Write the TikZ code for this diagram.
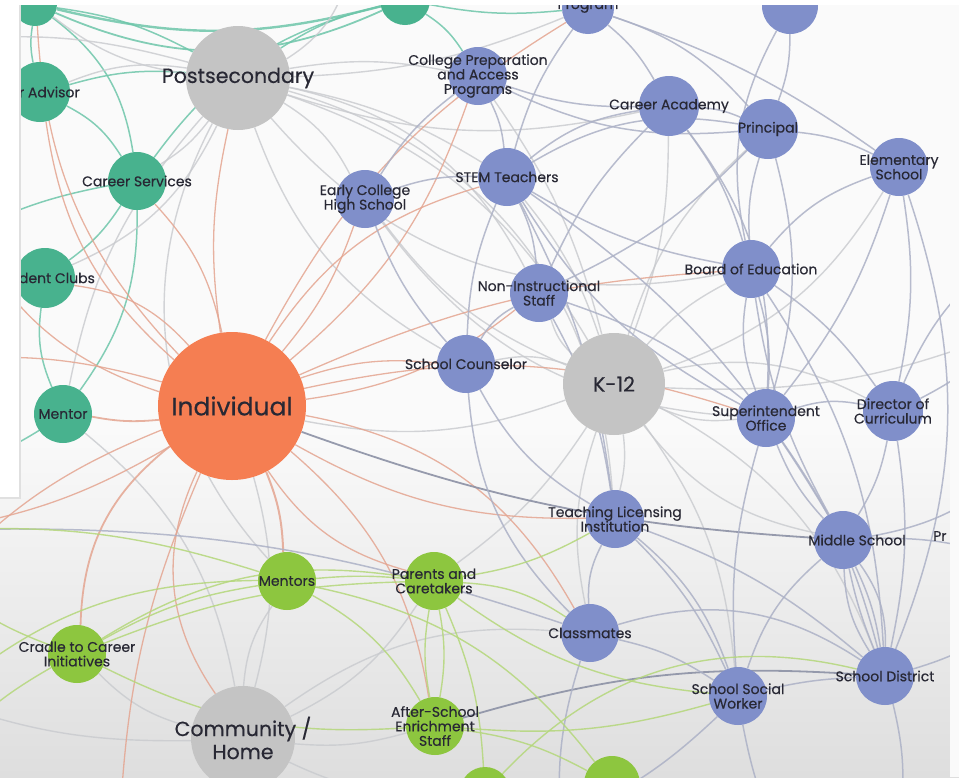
\documentclass[tikz,border=0pt]{standalone}
\usepackage{fontspec}
\setmainfont{Poppins}[FakeBold=0.35]
\pgfdeclarelayer{bg}
\pgfdeclarelayer{edges}
\pgfdeclarelayer{top}
\pgfsetlayers{bg,edges,main,top}
\definecolor{nteal}{RGB}{72,178,142}
\definecolor{nblue}{RGB}{128,143,202}
\definecolor{ngreen}{RGB}{141,198,63}
\definecolor{norange}{RGB}{245,126,82}
\definecolor{nhub}{RGB}{196,196,196}
\definecolor{txt}{RGB}{40,40,52}
\definecolor{cteal}{RGB}{110,198,170}
\definecolor{cblue}{RGB}{172,177,198}
\definecolor{cgreen}{RGB}{180,215,122}
\definecolor{csalmon}{RGB}{228,165,145}
\definecolor{chub}{RGB}{200,202,206}
\definecolor{cdark}{RGB}{140,145,165}
\definecolor{bglow}{RGB}{222,222,222}
\tikzset{
  tn/.style={circle,fill=nteal,minimum size=58pt,inner sep=0pt},
  bn/.style={circle,fill=nblue,minimum size=58pt,inner sep=0pt},
  gn/.style={circle,fill=ngreen,minimum size=58pt,inner sep=0pt},
  hn/.style={circle,fill=nhub,minimum size=104pt,inner sep=0pt},
  lbl/.style={font=\fontsize{14}{14.5}\selectfont,text=txt,align=center,inner sep=0pt},
  big/.style={font=\fontsize{20.5}{23}\selectfont,text=txt,align=center,inner sep=0pt},
  et/.style={draw=cteal,line width=1.5pt,opacity=0.85},
  eb/.style={draw=cblue,line width=1.5pt,opacity=0.85},
  eg/.style={draw=cgreen,line width=1.4pt,opacity=0.85},
  es/.style={draw=csalmon,line width=1.3pt,opacity=0.85},
  eh/.style={draw=chub,line width=1.4pt,opacity=0.8},
  ed/.style={draw=cdark,line width=1.8pt,opacity=0.9},
}
\begin{document}
\begin{tikzpicture}[x=1pt,y=-1pt]
\useasboundingbox (0,0) rectangle (959,777);
% ---- nodes ----
\node[tn,minimum size=44pt] (org) at (35,4) {};
\node[tn,minimum size=50pt] (tt) at (405,0) {};
\node[tn,minimum size=60pt,label={[lbl,anchor=west,xshift=9pt]west:r Advisor}] (adv) at (40,92) {};
\node[tn,label={[lbl]center:Career Services}] (car) at (137,181) {};
\node[tn,minimum size=60pt,label={[lbl,anchor=west,xshift=4pt]west:dent Clubs}] (clb) at (45,278) {};
\node[tn,label={[lbl]center:Mentor}] (men) at (63,414) {};
\node[hn,label={[big]center:Postsecondary}] (pse) at (238,78) {};
\node[circle,fill=norange,minimum size=148pt,inner sep=0pt,label={[big,font=\fontsize{25}{28}\selectfont]center:Individual}] (ind) at (232,406) {};
\node[hn,minimum size=102pt,label={[big]center:K-12}] (k12) at (614,384) {};
\node[hn,label={[big]center:Community /\\Home}] (com) at (243,738) {};
\node[bn,minimum size=52pt,label={[lbl,yshift=2pt]center:Program}] (prg) at (588,8) {};
\node[bn,minimum size=56pt] (ott) at (790,6) {};
\node[bn,label={[lbl]center:College Preparation\\and Access\\Programs}] (cpa) at (478,76) {};
\node[bn,minimum size=60pt,label={[lbl]center:Career Academy}] (aca) at (669,106) {};
\node[bn,minimum size=60pt,label={[lbl]center:Principal}] (pri) at (768,129) {};
\node[bn,label={[lbl]center:Elementary\\School}] (ele) at (899,167) {};
\node[bn,label={[lbl]center:STEM Teachers}] (stm) at (507,177) {};
\node[bn,label={[lbl]center:Early College\\High School}] (ech) at (365,199) {};
\node[bn,label={[lbl]center:Board of Education}] (boe) at (751,269) {};
\node[bn,label={[lbl]center:Non-Instructional\\Staff}] (non) at (539,293) {};
\node[bn,label={[lbl]center:School Counselor}] (cou) at (466,364) {};
\node[bn,label={[lbl]center:Superintendent\\Office}] (sup) at (766,418) {};
\node[bn,minimum size=60pt,label={[lbl]center:Director of\\Curriculum}] (dir) at (893,411) {};
\node[bn,label={[lbl]center:Teaching Licensing\\Institution}] (tli) at (615,519) {};
\node[bn,label={[lbl,xshift=14pt]center:Middle School}] (mid) at (843,540) {};
\node[bn,label={[lbl]center:Classmates}] (cls) at (590,633) {};
\node[bn,label={[lbl]center:School Social\\Worker}] (ssw) at (738,696) {};
\node[bn,label={[lbl]center:School District}] (dis) at (885,676) {};
\node[gn,label={[lbl]center:Mentors}] (mnt) at (287,581) {};
\node[gn,label={[lbl]center:Parents and\\Caretakers}] (par) at (434,581) {};
\node[gn,label={[lbl]center:Cradle to Career\\Initiatives}] (cra) at (77,654) {};
\node[gn,label={[lbl]center:After-School\\Enrichment\\Staff}] (aft) at (435,726) {};
\node[gn,minimum size=56pt] (g1) at (612,784) {};
\node[gn,minimum size=50pt] (g2) at (485,792) {};
\node[lbl,anchor=west] (prv) at (933,536) {Pr};
% off-screen ends
\coordinate (o1) at (-60,250);
\coordinate (o2) at (-60,470);
\coordinate (o3) at (-50,160);
\coordinate (o4) at (-50,40);
\coordinate (o5) at (-60,700);
\coordinate (o6) at (-60,360);
\coordinate (o7) at (-60,530);
\coordinate (o8) at (120,820);
\coordinate (o9) at (1010,330);
\coordinate (o10) at (1010,560);
\coordinate (o11) at (1010,620);
\coordinate (o12) at (770,820);
\coordinate (o13) at (560,820);
\coordinate (o14) at (-60,580);
\coordinate (o15) at (-60,760);
\coordinate (o16) at (1010,250);
\coordinate (o17) at (1010,470);
\coordinate (o18) at (350,-40);
\coordinate (o19) at (700,-40);
\coordinate (o20) at (900,820);
% ---- background ----
\begin{pgfonlayer}{bg}
\fill[white!98!black] (0,0) rectangle (959,777);
\shade[top color=white!98!black,bottom color=bglow] (0,430) rectangle (959,777);
\end{pgfonlayer}
% ---- edges ----
\begin{pgfonlayer}{edges}
% teal
\draw[et,line width=2.4pt] (org) to[bend right=14] (tt);
\draw[et,line width=1.8pt] (org) to[bend right=24] (tt);
\draw[et] (org) to[bend left=22] (car);
\draw[et] (org) to[bend right=10] (adv);
\draw[et] (adv) to[bend left=15] (car);
\draw[et] (adv) to[bend left=10] (pse);
\draw[et] (car) to[bend left=10] (clb);
\draw[et] (car) to[bend left=18] (men);
\draw[et] (clb) to[bend right=15] (men);
\draw[et] (car) to[bend left=20] (tt);
\draw[et] (org) to[bend left=10] (pse);
\draw[et] (car) to[bend right=10] (o1);
\draw[et] (men) to[bend left=10] (o2);
\draw[et] (adv) to[bend left=10] (o3);
\draw[et] (tt) to[bend left=12] (cpa);
\draw[et] (tt) to[bend right=10] (pse);
\draw[et] (tt) to[bend right=8] (prg);
% hub gray
\draw[eh] (pse) to[bend right=15] (adv);
\draw[eh] (pse) to[bend left=10] (car);
\draw[eh] (pse) to[bend left=20] (clb);
\draw[eh] (pse) to[bend right=15] (men);
\draw[eh] (pse) to[bend left=15] (ech);
\draw[eh] (pse) to[bend left=10] (cpa);
\draw[eh] (pse) to[bend right=10] (prg);
\draw[eh] (pse) to[bend right=15] (aca);
\draw[eh] (pse) to[bend left=10] (stm);
\draw[eh] (pse) to[bend left=20] (k12);
\draw[eh] (pse) to[bend right=20] (cou);
\draw[eh] (pse) to[bend right=10] (o4);
\draw[eh] (pse) to[bend left=25] (non);
\draw[eh] (pse) to[bend left=15] (org);
\draw[eh] (pse) to[bend right=25] (o18);
\draw[eh] (pse) to[bend right=30] (boe);
\draw[eh] (pse) to[bend left=35] (tli);
\draw[eh] (pse) to[bend right=35] (mnt);
\draw[eh] (ech) to[bend right=25] (sup);
\draw[eh] (k12) to[bend left=15] (non);
\draw[eh] (k12) to[bend right=15] (cou);
\draw[eh] (k12) to[bend right=10] (stm);
\draw[eh] (k12) to[bend left=10] (boe);
\draw[eh] (k12) to[bend right=15] (sup);
\draw[eh] (k12) to[bend left=20] (dir);
\draw[eh] (k12) to[bend left=10] (tli);
\draw[eh] (k12) to[bend right=20] (mid);
\draw[eh] (k12) to[bend right=15] (cls);
\draw[eh] (k12) to[bend left=15] (ssw);
\draw[eh] (k12) to[bend right=10] (aca);
\draw[eh] (k12) to[bend left=15] (pri);
\draw[eh] (k12) to[bend right=20] (ele);
\draw[eh] (k12) to[bend left=20] (dis);
\draw[eh] (k12) to[bend left=15] (ech);
\draw[eh] (k12) to[bend right=10] (cpa);
\draw[eh] (k12) to[bend left=15] (ind);
\draw[eh] (k12) to[bend left=10] (par);
\draw[eh] (k12) to[bend right=12] (o9);
\draw[eh] (com) to[bend left=15] (mnt);
\draw[eh] (com) to[bend right=15] (par);
\draw[eh] (com) to[bend left=15] (cra);
\draw[eh] (com) to[bend right=10] (aft);
\draw[eh] (com) to[bend right=15] (g2);
\draw[eh] (com) to[bend left=20] (cls);
\draw[eh] (com) to[bend right=15] (ind);
\draw[eh] (com) to[bend left=10] (o5);
\draw[eh] (com) to[bend right=20] (men);
% salmon from Individual
\draw[es] (ind) to[bend left=10] (pse);
\draw[es] (ind) to[bend right=15] (car);
\draw[es] (ind) to[bend left=20] (adv);
\draw[es] (ind) to[bend right=20] (clb);
\draw[es,line width=1.8pt] (ind) to[bend left=8] (men);
\draw[es,line width=2pt] (ind) to[bend left=10] (mnt);
\draw[es] (ind) to[bend right=20] (par);
\draw[es,line width=1.8pt] (ind) to[bend right=25] (cra);
\draw[es] (ind) to[bend left=20] (aft);
\draw[es] (ind) to[bend right=30] (com);
\draw[es] (ind) to[bend left=12] (cou);
\draw[es] (ind) to[bend right=10] (ech);
\draw[es] (ind) to[bend left=20] (stm);
\draw[es] (ind) to[bend right=15] (non);
\draw[es] (ind) to[bend right=15] (tli);
\draw[es] (ind) to[bend left=25] (cls);
\draw[es] (ind) to[bend left=15] (sup);
\draw[es] (ind) to[bend left=15] (prg);
\draw[es] (ind) to[bend right=10] (o6);
\draw[es] (ind) to[bend left=10] (o7);
\draw[es] (ind) to[bend right=10] (o8);
\draw[es] (ind) to[bend left=20] (org);
\draw[es] (ind) to[bend right=15] (cpa);
\draw[es] (ind) to[bend left=10] (boe);
\draw[es] (ind) to[bend right=12] (o14);
\draw[es] (ind) to[bend left=30] (o3);
% dark long lines
\draw[ed] (ind) to[bend right=8] (mid);
\draw[ed] (aft) to[bend left=10] (dis);
% blue
\draw[eb] (prg) to[bend left=10] (aca);
\draw[eb] (prg) to[bend left=15] (pri);
\draw[eb] (prg) to[bend right=10] (stm);
\draw[eb] (prg) to[bend left=8] (ele);
\draw[eb] (cpa) to[bend right=10] (aca);
\draw[eb] (cpa) to[bend left=10] (stm);
\draw[eb] (cpa) to[bend right=15] (pri);
\draw[eb] (ott) to[bend left=10] (pri);
\draw[eb] (ott) to[bend right=20] (boe);
\draw[eb] (aca) to[bend left=10] (pri);
\draw[eb] (aca) to[bend right=15] (stm);
\draw[eb] (aca) to[bend left=10] (boe);
\draw[eb] (aca) to[bend right=10] (non);
\draw[eb] (aca) to[bend left=20] (sup);
\draw[eb] (pri) to[bend left=10] (ele);
\draw[eb] (pri) to[bend right=10] (boe);
\draw[eb] (pri) to[bend left=15] (sup);
\draw[eb] (pri) to[bend right=20] (stm);
\draw[eb] (pri) to[bend left=10] (non);
\draw[eb] (ele) to[bend right=15] (boe);
\draw[eb] (ele) to[bend left=10] (sup);
\draw[eb] (ele) to[bend left=10] (dir);
\draw[eb] (ele) to[bend left=20] (dis);
\draw[eb] (stm) to[bend left=10] (non);
\draw[eb] (stm) to[bend right=10] (cou);
\draw[eb] (stm) to[bend right=10] (boe);
\draw[eb] (stm) to[bend left=10] (tli);
\draw[eb] (stm) to[bend right=15] (sup);
\draw[eb] (stm) to[bend left=12] (mid);
\draw[eb] (boe) to[bend left=10] (sup);
\draw[eb] (boe) to[bend right=15] (sup);
\draw[eb] (boe) to[bend left=10] (dir);
\draw[eb] (boe) to[bend right=10] (mid);
\draw[eb] (boe) to[bend left=15] (dis);
\draw[eb] (non) to[bend right=15] (cou);
\draw[eb] (non) to[bend left=10] (tli);
\draw[eb] (non) to[bend left=10] (sup);
\draw[eb] (cou) to[bend right=15] (tli);
\draw[eb] (cou) to[bend right=20] (cls);
\draw[eb] (sup) to[bend left=15] (dir);
\draw[eb] (sup) to[bend right=10] (mid);
\draw[eb] (sup) to[bend left=10] (dis);
\draw[eb] (sup) to[bend right=10] (ssw);
\draw[eb] (dir) to[bend left=10] (mid);
\draw[eb] (dir) to[bend left=10] (dis);
\draw[eb] (tli) to[bend right=15] (cls);
\draw[eb] (tli) to[bend left=10] (ssw);
\draw[eb] (tli) to[bend left=15] (ssw);
\draw[eb] (tli) to[bend left=10] (dis);
\draw[eb] (mid) to[bend right=15] (dis);
\draw[eb] (mid) to[bend right=5] (dis);
\draw[eb] (mid) to[bend left=8] (dis);
\draw[eb] (mid) to[bend left=18] (dis);
\draw[eb] (mid) to[bend right=15] (ssw);
\draw[eb] (cls) to[bend left=10] (ssw);
\draw[eb] (cls) to[bend left=25] (dis);
\draw[eb] (ssw) to[bend left=5] (dis);
\draw[eb] (ech) to[bend left=10] (stm);
\draw[eb] (ech) to[bend left=10] (cpa);
\draw[eb] (ech) to[bend right=10] (cou);
\draw[eb] (dir) to[bend right=10] (o9);
\draw[eb] (dir) to[bend left=15] (o16);
\draw[eb] (mid) to[bend left=10] (o10);
\draw[eb] (mid) to[bend right=15] (o17);
\draw[eb] (dis) to[bend right=10] (o11);
\draw[eb] (ssw) to[bend right=5] (o12);
\draw[eb] (ssw) to[bend left=10] (o13);
\draw[eb] (cls) to[bend right=10] (o13);
\draw[eb] (ott) to[bend right=10] (o19);
\draw[eb] (dis) to[bend left=10] (o20);
\draw[eb] (cls) to[bend right=10] (o7);
% green
\draw[eg] (mnt) to[bend left=5] (par);
\draw[eg] (mnt) to[bend right=10] (cra);
\draw[eg] (mnt) to[bend left=15] (aft);
\draw[eg] (mnt) to[bend left=20] (g1);
\draw[eg] (par) to[bend right=10] (cra);
\draw[eg] (par) to[bend left=10] (aft);
\draw[eg] (par) to[bend right=10] (aft);
\draw[eg] (par) to[bend left=10] (g2);
\draw[eg] (par) to[bend right=15] (ssw);
\draw[eg] (par) to[bend left=15] (cls);
\draw[eg] (cra) to[bend left=10] (o14);
\draw[eg] (cra) to[bend right=10] (o15);
\draw[eg] (cra) to[bend right=15] (aft);
\draw[eg] (aft) to[bend left=10] (g1);
\draw[eg] (aft) to[bend right=10] (ssw);
\draw[eg] (mnt) to[bend right=10] (o7);
\draw[eg] (par) to[bend right=10] (tli);
\draw[eg] (g2) to[bend left=30] (dis);
\draw[eg] (cra) to[bend left=20] (par);
\draw[eg] (mnt) to[bend right=20] (o5);
\end{pgfonlayer}
% ---- screenshot frame ----
\begin{pgfonlayer}{top}
\fill[white] (0,0) rectangle (959,5);
\fill[black!12] (19,5) rectangle (21,499);
\fill[black!12] (0,497) rectangle (21,499);
\fill[white] (0,0) rectangle (19,497);
\fill[white!98!black] (950,5) rectangle (959,777);
\end{pgfonlayer}
\end{tikzpicture}
\end{document}
